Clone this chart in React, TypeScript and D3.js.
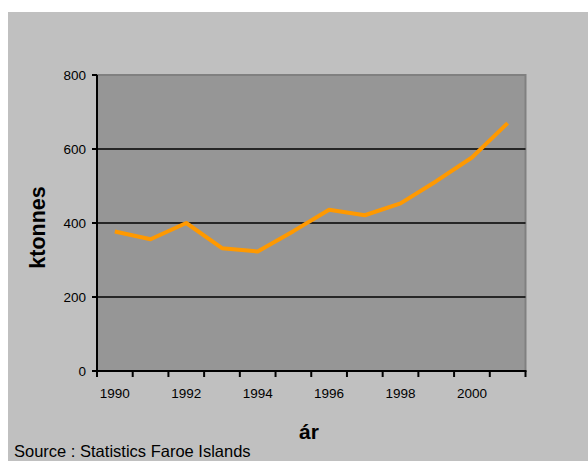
import React from "react";
import * as d3 from "d3";

const years = [1990, 1991, 1992, 1993, 1994, 1995, 1996, 1997, 1998, 1999, 2000, 2001];
const ktonnes = [377, 356, 400, 332, 323, 378, 436, 421, 453, 513, 577, 670];
const yTicks = [0, 200, 400, 600, 800];
const xLabelYears = [1990, 1992, 1994, 1996, 1998, 2000];

export default function App() {
  const W = 588, H = 461;
  const left = 97, right = 525.5, top = 75, bottom = 371;
  const x = d3.scaleBand<number>().domain(years).range([left, right]).padding(0);
  const y = d3.scaleLinear().domain([0, 800]).range([bottom, top]);
  const line = d3
    .line<number>()
    .x((_, i) => (x(years[i]) as number) + x.bandwidth() / 2)
    .y((d) => y(d));
  const font = "Arial, 'Liberation Sans', sans-serif";
  const boundaries = years.map((yr) => x(yr) as number).concat([right]);
  return (
    <svg
      width={W}
      height={H}
      style={{ position: "absolute", left: 0, top: 0 }}
      fontFamily={font}
    >
      <rect x={0} y={0} width={W} height={H} fill="#ffffff" />
      <rect x={8} y={12} width={W - 8} height={H - 12} fill="#c0c0c0" />
      <rect x={left} y={top} width={right - left} height={bottom - top} fill="#969696" />
      <path
        d={`M${left},${top}H${right}V${bottom}`}
        fill="none"
        stroke="#808080"
        strokeWidth={2}
      />
      {yTicks.slice(1, 4).map((t) => (
        <line key={t} x1={left} x2={right} y1={y(t)} y2={y(t)} stroke="#000" strokeWidth={1.5} />
      ))}
      <path d={line(ktonnes) || ""} fill="none" stroke="#ff9900" strokeWidth={4} strokeLinejoin="round" />
      <line x1={left} x2={left} y1={top} y2={bottom + 1} stroke="#000" strokeWidth={2} />
      <line x1={left - 1} x2={right + 1} y1={bottom} y2={bottom} stroke="#000" strokeWidth={2} />
      {yTicks.map((t) => (
        <g key={t}>
          <line x1={left - 5} x2={left} y1={y(t)} y2={y(t)} stroke="#000" strokeWidth={2} />
          <text x={left - 11} y={y(t)} dy="0.36em" textAnchor="end" fontSize={13.5} fill="#000">
            {t}
          </text>
        </g>
      ))}
      {boundaries.map((b, i) => (
        <line key={i} x1={b} x2={b} y1={bottom} y2={bottom + 6} stroke="#000" strokeWidth={2} />
      ))}
      {xLabelYears.map((yr) => (
        <text
          key={yr}
          x={(x(yr) as number) + x.bandwidth() / 2}
          y={398}
          textAnchor="middle"
          fontSize={13.5}
          fill="#000"
        >
          {yr}
        </text>
      ))}
      <text x={309} y={439} textAnchor="middle" fontSize={21} fontWeight="bold" fill="#000">
        ár
      </text>
      <text
        transform={`translate(45,227.5) rotate(-90)`}
        textAnchor="middle"
        fontSize={21.5}
        fontWeight="bold"
        fill="#000"
      >
        ktonnes
      </text>
      <text x={14} y={456.5} fontSize={16.5} fill="#000">
        Source : Statistics Faroe Islands
      </text>
    </svg>
  );
}
